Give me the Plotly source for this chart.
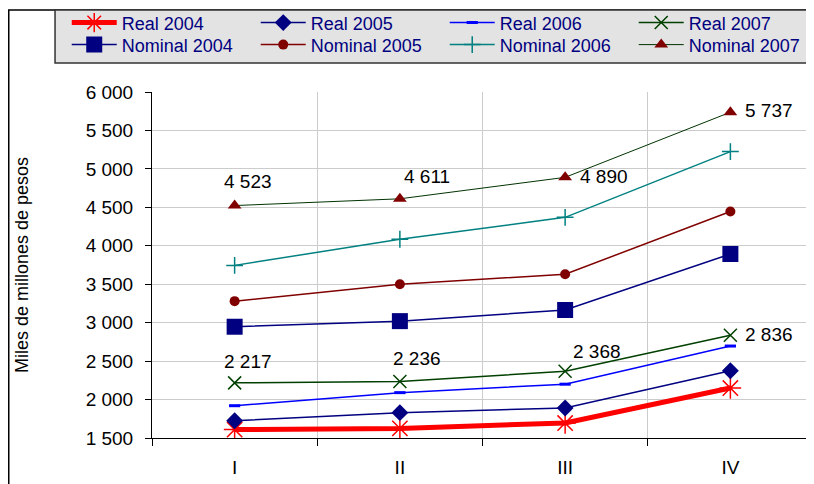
import plotly.graph_objects as go

quarters = ["I", "II", "III", "IV"]

real_2004 = [1610, 1625, 1695, 2150]
real_2005 = [1725, 1830, 1890, 2375]
real_2006 = [1920, 2090, 2200, 2696]
real_2007 = [2217, 2236, 2368, 2836]
nominal_2004 = [2947, 3020, 3165, 3893]
nominal_2005 = [3280, 3500, 3630, 4445]
nominal_2006 = [3745, 4085, 4370, 5225]
nominal_2007 = [4523, 4611, 4890, 5737]

# pixel offsets of the value labels from their points
real_label_dx = [13, 17, 32, 39]
real_label_dy = [21, 23, 20, 1]
nom_label_dx = [13, 27, 39, 39]
nom_label_dy = [24, 22, 1, 2]

fig = go.Figure()

# Real series (first legend row)
fig.add_trace(go.Scatter(x=quarters, y=real_2004, mode='lines+markers', name='Real 2004',
                         legend='legend',
                         line=dict(color='#FF0000', width=5),
                         marker=dict(symbol='asterisk-open', size=18, color='#FF0000',
                                     line=dict(color='#FF0000', width=1.5))))
fig.add_trace(go.Scatter(x=quarters, y=real_2005, mode='lines+markers', name='Real 2005',
                         legend='legend',
                         line=dict(color='#000080', width=1.5),
                         marker=dict(symbol='diamond', size=13, color='#000080')))
fig.add_trace(go.Scatter(x=quarters, y=real_2006, mode='lines+markers', name='Real 2006',
                         legend='legend',
                         line=dict(color='#0000FF', width=1.5),
                         marker=dict(symbol='line-ew-open', size=8, color='#0000FF',
                                     line=dict(color='#0000FF', width=3))))
fig.add_trace(go.Scatter(x=quarters, y=real_2007, mode='lines+markers', name='Real 2007',
                         legend='legend',
                         line=dict(color='#004000', width=1.5),
                         marker=dict(symbol='x-thin-open', size=13, color='#004000',
                                     line=dict(color='#004000', width=1.5))))

# Nominal series (second legend row)
fig.add_trace(go.Scatter(x=quarters, y=nominal_2004, mode='lines+markers', name='Nominal 2004',
                         legend='legend2',
                         line=dict(color='#000080', width=1.5),
                         marker=dict(symbol='square', size=16, color='#000080')))
fig.add_trace(go.Scatter(x=quarters, y=nominal_2005, mode='lines+markers', name='Nominal 2005',
                         legend='legend2',
                         line=dict(color='#800000', width=1.5),
                         marker=dict(symbol='circle', size=10, color='#800000')))
fig.add_trace(go.Scatter(x=quarters, y=nominal_2006, mode='lines+markers', name='Nominal 2006',
                         legend='legend2',
                         line=dict(color='#008080', width=1.5),
                         marker=dict(symbol='cross-thin-open', size=12, color='#008080',
                                     line=dict(color='#008080', width=1.5))))
fig.add_trace(go.Scatter(x=quarters, y=nominal_2007, mode='lines+markers', name='Nominal 2007',
                         legend='legend2',
                         line=dict(color='#003300', width=1),
                         marker=dict(symbol='triangle-up', size=12, color='#800000')))

# value labels for 2007
for q, v, dx, dy in zip(quarters, real_2007, real_label_dx, real_label_dy):
    fig.add_annotation(x=q, y=v, text=f"{v:,}".replace(",", " "), showarrow=False,
                       xshift=dx, yshift=dy, font=dict(size=19, color='#000000'))
for q, v, dx, dy in zip(quarters, nominal_2007, nom_label_dx, nom_label_dy):
    fig.add_annotation(x=q, y=v, text=f"{v:,}".replace(",", " "), showarrow=False,
                       xshift=dx, yshift=dy, font=dict(size=19, color='#000000'))

# chart frame
fig.add_shape(type='rect', xref='paper', yref='paper',
              x0=-0.2167, x1=1.03, y0=-0.25, y1=1.237,
              line=dict(color='#000000', width=1.5), layer='below')
# legend box
fig.add_shape(type='rect', xref='paper', yref='paper',
              x0=-0.1467, x1=0.9955, y0=1.0838, y1=1.237,
              fillcolor='#E3E3E3', line=dict(color='#333333', width=1.5), layer='below')

legend_style = dict(
    orientation='h', x=-0.129, xanchor='left', yanchor='top',
    bgcolor='rgba(0,0,0,0)', borderwidth=0,
    font=dict(size=18, color='#000080'),
    entrywidth=129, itemwidth=45,
    traceorder='normal',
)

# the page adds an 8px body margin, so the figure is laid out 8px up and left
fig.update_layout(
    width=814, height=484,
    margin=dict(l=144, r=9, t=84, b=54, autoexpand=False),
    paper_bgcolor='white', plot_bgcolor='white',
    font=dict(family='Liberation Sans, Arial', size=19, color='#000000'),
    separators=', ',
    showlegend=True,
    legend=dict(legend_style, y=1.2532),
    legend2=dict(legend_style, y=1.1896),
    xaxis=dict(
        type='category', range=[-0.5, 3.5],
        tickson='boundaries', ticks='outside', ticklen=7, tickcolor='#000000',
        showgrid=True, gridcolor='#CCCCCC', gridwidth=1,
        showline=True, linecolor='#000000', linewidth=1,
        tickfont=dict(size=19), ticklabelstandoff=12,
    ),
    yaxis=dict(
        range=[1500, 6000], dtick=500, tickformat=',d',
        ticks='outside', ticklen=6, tickcolor='#000000',
        showgrid=True, gridcolor='#CCCCCC', gridwidth=1,
        showline=True, linecolor='#000000', linewidth=1,
        tickfont=dict(size=19), ticklabelstandoff=8, zeroline=False,
        title=dict(text='Miles de millones de pesos', font=dict(size=18), standoff=52),
    ),
)

fig.write_html("out.html")
